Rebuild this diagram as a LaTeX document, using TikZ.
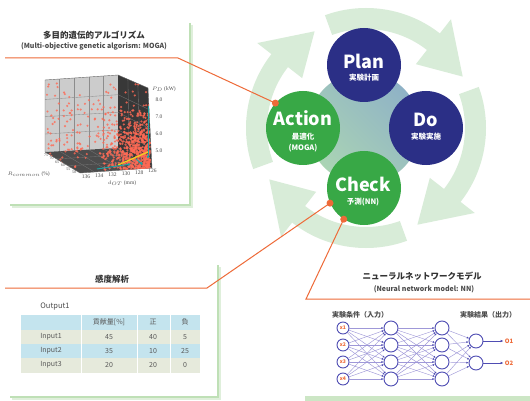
\documentclass[tikz,border=0pt]{standalone}
\usepackage{fontspec}
\setmainfont{Noto Sans CJK JP}
\newfontfamily\plotfont{Liberation Serif}
\usetikzlibrary{arrows.meta}
\definecolor{navy}{HTML}{2B2F86}
\definecolor{pgreen}{HTML}{38A846}
\definecolor{ringc}{HTML}{D8ECD8}
\definecolor{orng}{HTML}{EE6A38}
\definecolor{shadowg}{HTML}{BFE0B6}
\definecolor{tblue}{HTML}{C4E4EE}
\definecolor{tbeige}{HTML}{E6EADC}
\definecolor{nnc}{HTML}{4F4DB3}
\definecolor{nnl}{HTML}{9F98D8}
\definecolor{ptred}{HTML}{FF6A55}
\definecolor{cyanc}{HTML}{1CA3A6}
\definecolor{yelc}{HTML}{F2D21B}
\definecolor{ttl}{HTML}{333333}
\definecolor{bgblue}{HTML}{8FB2C6}
\definecolor{bggreen}{HTML}{AAD4B4}
\begin{document}
\begin{tikzpicture}[x=1pt,y=-1pt,
  fs/.style={font=\fontsize{#1}{#1}\selectfont},
  fsb/.style={font=\fontsize{#1}{#1}\selectfont\bfseries},
  pdca/.style={circle, minimum size=74pt, inner sep=0pt},
  intext/.style={text=white, inner sep=0pt},
  ttlnode/.style={text=ttl, inner sep=0pt},
  subnode/.style={text=black!70, inner sep=0pt},
  cellt/.style={text=black!65, fs=7, inner sep=0pt},
  nnin/.style={circle, draw=nnc, line width=0.9pt, fill=white, minimum size=12pt, inner sep=0pt, text=orng, fsb=5},
  nnh/.style={circle, draw=nnc, line width=0.9pt, fill=white, minimum size=14pt, inner sep=0pt},
  nnedge/.style={draw=nnl, line width=0.45pt, -{Latex[length=2.2pt,width=2pt,color=nnc]}},
  oline/.style={draw=orng, line width=1pt},
  odot/.style={fill=orng},
  shadowln/.style={draw=shadowg, line width=2pt},
  plottick/.style={font=\plotfont\fontsize{5.5}{5.5}\selectfont, text=black!70, inner sep=0pt},
  smalltick/.style={font=\plotfont\fontsize{4}{4}\selectfont, text=black!70, inner sep=0pt},
  gridb/.style={draw=black!45, line width=0.35pt},
  gridd/.style={draw=black!55, line width=0.35pt},
  pt/.style={fill=ptred, opacity=0.8},
]
\useasboundingbox (0,0) rectangle (530,401);
\fill[white] (0,0) rectangle (530,401);

% ---------- cycle ring arrows ----------
\begin{scope}[shift={(366,128)}]
\foreach \r in {0,90,180,270}{
  \fill[ringc] ({-110+\r}:120) arc[start angle={-110+\r}, end angle={-52+\r}, radius=120]
    -- ({-52+\r}:138) -- ({-28+\r}:109.5) -- ({-52+\r}:81) -- ({-52+\r}:99)
    arc[start angle={-52+\r}, end angle={-110+\r}, radius=99] -- cycle;
}
\end{scope}

% ---------- PDCA ----------
\shade[top color=bgblue, bottom color=bggreen, shading angle=-45] (364,128) circle[radius=56];
\node[pdca, fill=navy] (plan) at (364,65) {};
\node[pdca, fill=navy] (do) at (426,128) {};
\node[pdca, fill=pgreen] (action) at (303,128) {};
\node[pdca, fill=pgreen] (check) at (364,188) {};
\node[intext, fsb=18] (planT) at (364,61) {Plan};
\node[intext, fsb=7.5] (planS) at (364,78) {実験計画};
\node[intext, fsb=18] (doT) at (426,120) {Do};
\node[intext, fsb=7.5] (doS) at (426,137) {実験実施};
\node[intext, fsb=18] (actT) at (303,118) {Action};
\node[intext, fsb=7.5] (actS) at (303,137) {最適化};
\node[intext, fsb=7.5] (actS2) at (303,148) {(MOGA)};
\node[intext, fsb=18] (chkT) at (363,184) {Check};
\node[intext, fsb=7.5] (chkS) at (363,202) {予測(NN)};

% ---------- panels ----------
\draw[shadowg!50, line width=4pt] (191,25) -- (191,206) -- (12,206);
\draw[shadowln] (190,23) -- (190,205) -- (10,205);
\draw[shadowg!50, line width=4pt] (219,267) -- (219,398) -- (12,398);
\draw[shadowln] (218,265) -- (218,397) -- (10,397);
\fill[shadowg!80] (305,396) rectangle (530,401);

% ---------- top-left panel ----------
\node[ttlnode, fsb=8.5] (t1) at (94,35) {多目的遺伝的アルゴリズム};
\node[subnode, fsb=7] (t1s) at (94,46) {(Multi-objective genetic algorism: MOGA)};

% 3D plot
\fill[black!20] (45,80) -- (118,75) -- (118,148) -- (45,152) -- cycle;
\fill[black!78] (118,75) -- (148,88) -- (152,168) -- (118,148) -- cycle;
\fill[black!70] (45,152) -- (118,148) -- (152,168) -- (80,173) -- cycle;
\foreach \t in {0.2,0.4,0.6,0.8} \draw[gridb] ({45+73*\t},{80-5*\t}) -- ({45+73*\t},{152-4*\t});
\foreach \s in {0.27,0.51,0.75} \draw[gridb] (45,{80+72*\s}) -- (118,{75+73*\s});
\foreach \s in {0.27,0.51,0.75} \draw[gridd] (118,{75+73*\s}) -- ({148+4*\s},{88+80*\s});
\foreach \t in {0.33,0.66} \draw[gridd] ({118+30*\t},{75+13*\t}) -- ({118+34*\t},{148+20*\t});
\foreach \t in {0.2,0.4,0.6,0.8} \draw[gridd] ({45+73*\t},{152-4*\t}) -- ({80+72*\t},{173-5*\t});
\foreach \s in {0.33,0.66} \draw[gridd] ({45+35*\s},{152+21*\s}) -- ({118+34*\s},{148+20*\s});
\draw[black!60, line width=0.4pt] (45,80) -- (118,75) -- (148,88) -- (152,168) -- (80,173) -- (45,152) -- cycle;
\pgfmathsetseed{11}
\begin{scope}
\clip (45,80) -- (118,75) -- (148,88) -- (152,168) -- (80,173) -- (45,152) -- cycle;
\foreach \k in {1,...,200}{
  \pgfmathsetmacro\px{47+100*rnd}
  \pgfmathsetmacro\py{82+86*(rnd^0.7)}
  \path[pt] (\px,\py) circle[radius=1.2];
}
\foreach \k in {1,...,650}{
  \pgfmathsetmacro\px{95+55*(rnd^0.4)}
  \pgfmathsetmacro\py{100+70*(rnd^0.4)}
  \path[pt] (\px,\py) circle[radius=1.2];
}
\end{scope}
\draw[cyanc, line width=1pt, -{Latex[length=3pt,width=3pt]}] (148,106) -- (148,159);
\draw[yelc, line width=1.2pt] (118,165) -- (148,152);
\draw[cyanc, line width=1pt, -{Latex[length=3pt,width=3pt]}] (97,169) -- (131,164);
\draw[cyanc, line width=1pt, -{Latex[length=3pt,width=3pt]}] (136,159) -- (143,165);
\node[plottick, anchor=west] (pd) at (152,89) {$P_D$ (kW)};
\node[plottick] (y8) at (159,100) {8.0};
\node[plottick] (y7) at (159,117) {7.0};
\node[plottick] (y6) at (159,134) {6.0};
\node[plottick] (y5) at (159,151) {5.0};
\foreach \v [count=\i from 0] in {136,134,132,130,128,126}
  \node[plottick] (xt\i) at ({86+13.3*\i},{177-1.2*\i}) {\v};
\node[plottick] (dot) at (122,183) {$d_{OT}$ (mm)};
\foreach \v [count=\i from 0] in {75,70,65,60,55,50}
  \node[smalltick] (rt\i) at ({46+5.6*\i},{155+3.5*\i}) {\v};
\node[plottick, anchor=east] (rlab) at (50,174) {$R_{common}$ (\%)};

% ---------- bottom-left panel ----------
\node[ttlnode, fsb=8.5] (t2) at (112,279) {感度解析};
\node[text=black!70, fs=7.5, inner sep=0pt] (out1) at (55,307) {Output1};
\fill[tblue] (21,315) rectangle (200,330);
\fill[tbeige] (21,330) rectangle (200,344);
\fill[tblue] (21,344) rectangle (200,358);
\fill[tbeige] (21,358) rectangle (200,373);
\draw[white, line width=1pt] (81,315) -- (81,373) (137,315) -- (137,373) (170,315) -- (170,373);
\node[cellt] (h1) at (109,322) {貢献量[\%]};
\node[cellt] (h2) at (153,322) {正};
\node[cellt] (h3) at (185,322) {負};
\foreach \n/\y/\a/\b/\c in {1/337/45/40/5, 2/351/35/10/25, 3/365/20/20/0}{
  \node[cellt] (in\n) at (51,\y) {Input\n};
  \node[cellt] (ca\n) at (109,\y) {\a};
  \node[cellt] (cb\n) at (153,\y) {\b};
  \node[cellt] (cc\n) at (185,\y) {\c};
}

% ---------- bottom-right panel ----------
\node[ttlnode, fsb=8.5] (t3) at (422,276) {ニューラルネットワークモデル};
\node[subnode, fsb=7] (t3s) at (424,289) {(Neural network model: NN)};
\node[subnode, fsb=7] (nnl1) at (360,315) {実験条件（入力）};
\node[subnode, fsb=7] (nnl2) at (488,315) {実験結果（出力）};
\foreach \i/\y in {1/328,2/345,3/362,4/379}{
  \node[nnin] (i\i) at (343,\y) {x\i};
  \node[nnh] (h\i) at (391,\y) {};
  \node[nnh] (g\i) at (442,\y) {};
}
\node[nnh] (o1) at (476,341) {};
\node[nnh] (o2) at (476,363) {};
\foreach \a in {1,...,4}{
  \foreach \b in {1,...,4}{
    \draw[nnedge] (i\a) -- (h\b);
    \draw[nnedge] (h\a) -- (g\b);
  }
  \foreach \b in {1,2}{ \draw[nnedge] (g\a) -- (o\b); }
}
\node[text=orng, fsb=6, inner sep=1pt] (O1) at (509,341) {O1};
\node[text=orng, fsb=6, inner sep=1pt] (O2) at (509,363) {O2};
\draw[nnc, line width=0.6pt, -{Latex[length=3pt,width=2.5pt]}] (o1) -- (O1);
\draw[nnc, line width=0.6pt, -{Latex[length=3pt,width=2.5pt]}] (o2) -- (O2);

% ---------- orange connectors ----------
\coordinate (a0) at (5,58);
\coordinate (a1) at (178,58);
\coordinate (b0) at (5,288);
\coordinate (b1) at (207,288);
\coordinate (c0) at (530,299);
\coordinate (c1) at (306,299);
\draw[oline] (a0) -- (a1) -- (action.138);
\draw[oline] (b0) -- (b1) -- (check.204);
\draw[oline] (c0) -- (c1) -- (check.237);
\fill[odot] (action.138) circle[radius=3.5];
\fill[odot] (check.204) circle[radius=3.5];
\fill[odot] (check.237) circle[radius=3.5];
\end{tikzpicture}
\end{document}
